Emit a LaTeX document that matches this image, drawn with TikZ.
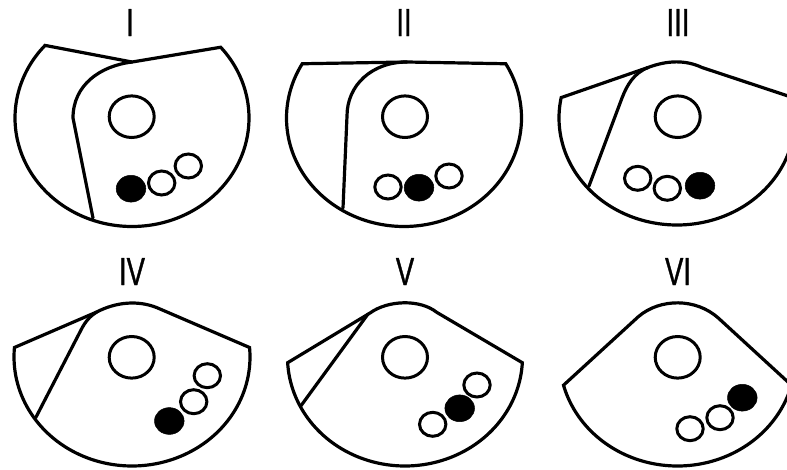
\documentclass[tikz,border=0pt]{standalone}
\usepackage{fontspec}
\usepackage{graphicx}
\setmainfont{Liberation Sans}
\newfontfamily\titlefont[RawFeature={embolden=1.2}]{Liberation Sans}
\tikzset{
  contour/.style={line width=3.2pt,line join=miter,line cap=round},
  hole/.style={line width=3pt},
  core/.style={fill=black,draw=black,line width=0.5pt},
  paneltitle/.style={anchor=base,inner sep=0pt,font=\titlefont\fontsize{39}{39}\selectfont}
}
\newcommand{\outerarc}[6]{plot[domain=#5:#6,samples=90,smooth] ({#1+#3*cos(\x)},{#2+#4*sin(\x)})}
\newcommand{\bigring}[2]{\draw[hole] (#1,#2) ellipse [x radius=22.5,y radius=20.8];}
\newcommand{\smallring}[2]{\draw[hole] (#1,#2) ellipse [x radius=13.2,y radius=12];}
\newcommand{\blackdot}[2]{\draw[core] (#1,#2) ellipse [x radius=14.8,y radius=13.4];}
\begin{document}
\begin{tikzpicture}[x=1pt,y=-1pt]
\useasboundingbox (0,0) rectangle (787,469);
\clip (0,0) rectangle (787,469);
\fill[white] (0,0) rectangle (787,469);
% titles
\node[paneltitle] (t1) at (130,36) {\scalebox{.7}[1]{I}};
\node[paneltitle] (t2) at (404,36) {\scalebox{.7}[1]{II}};
\node[paneltitle] (t3) at (678,36) {\scalebox{.7}[1]{III}};
\node[paneltitle] (t4) at (132,285) {\scalebox{.7}[1]{IV}};
\node[paneltitle] (t5) at (405,285) {\scalebox{.7}[1]{V}};
\node[paneltitle] (t6) at (678,285) {\scalebox{.7}[1]{VI}};
% I
\draw[contour] \outerarc{132}{118}{117}{108.5}{-40.7}{222} -- (132,62) -- cycle;
\draw[contour] (132,62) .. controls (100,66) and (73,85) .. (73,118) -- (93,218);
\bigring{131.7}{116.7}
\blackdot{131}{188.7}
\smallring{161.7}{183}
\smallring{188.3}{166}
% II
\draw[contour] \outerarc{404}{118}{117.5}{108.5}{-30}{210} -- (407,62) -- cycle;
\draw[contour] (407,62) .. controls (372,62) and (347,85) .. (347,116) -- (343,208);
\bigring{405}{116.7}
\smallring{388}{187}
\blackdot{419}{187.7}
\smallring{449}{176}
% III
\draw[contour] \outerarc{677}{118}{118}{107}{-11}{191} -- (648,67.5) .. controls (668,60) and (686,60) .. (702,67.5) -- cycle;
\draw[contour] (648,67.5) .. controls (634,73) and (627,85) .. (622,98) -- (589,186);
\bigring{677.7}{116.7}
\smallring{637.7}{178.3}
\smallring{667.3}{188.3}
\blackdot{700}{185.7}
% IV
\draw[contour] \outerarc{132}{357}{118}{109}{-5}{185} -- (96.7,312) .. controls (116,302) and (138,300) .. (157,307.7) -- cycle;
\draw[contour] (96.7,312) .. controls (90,316) and (85,322) .. (81,330) -- (35.7,417.7);
\bigring{131.7}{357.3}
\smallring{207.3}{375.7}
\smallring{193.7}{401.7}
\blackdot{169.3}{421}
% V
\draw[contour] \outerarc{405}{357}{117.5}{109}{3}{177} -- (370,313) .. controls (388,300) and (420,299) .. (436.7,312.3) -- cycle;
\draw[contour] (368,314) -- (301,405.7);
\bigring{405}{357.3}
\smallring{477}{385}
\blackdot{459.7}{408.3}
\smallring{432.7}{424.3}
% VI
\draw[contour] \outerarc{677.5}{357}{118}{109}{15}{165} -- (638.3,316.7) .. controls (660,298) and (696,298) .. (718.3,318) -- cycle;
\bigring{677.7}{357.3}
\blackdot{742.3}{397.7}
\smallring{720}{417.7}
\smallring{690}{428.7}
\end{tikzpicture}
\end{document}
